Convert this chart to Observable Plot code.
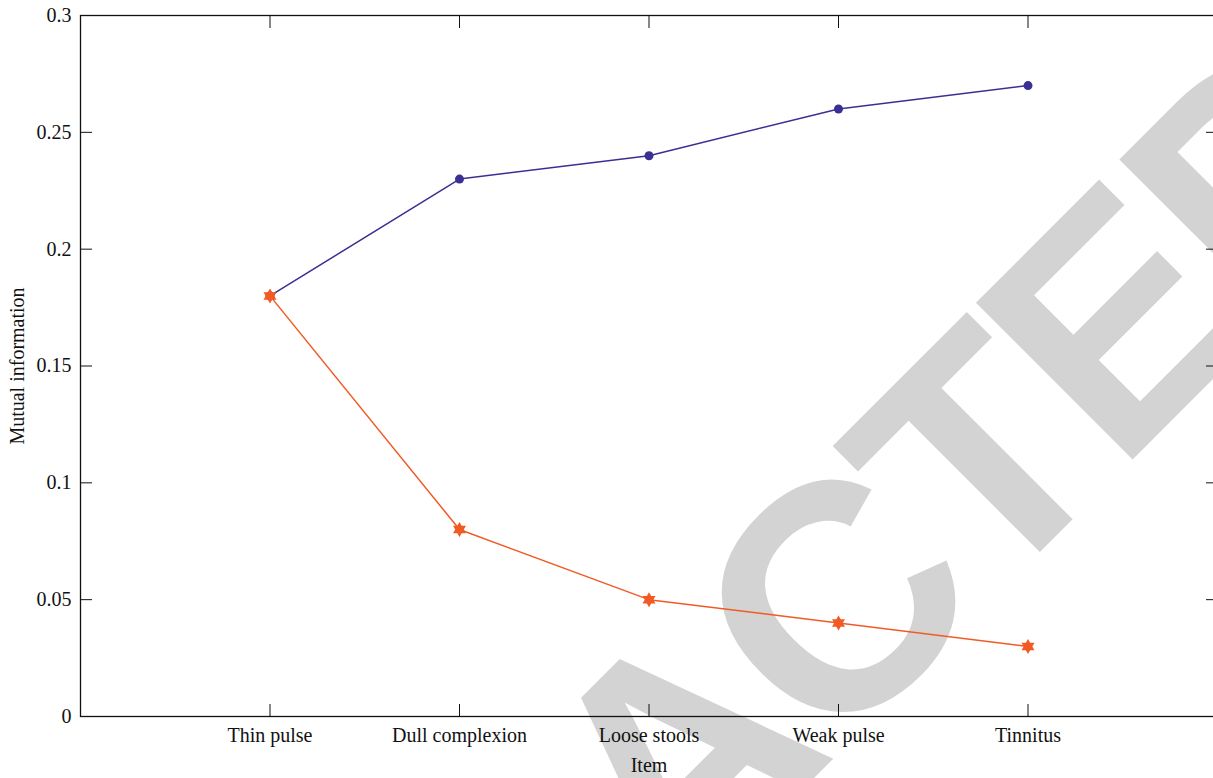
<!DOCTYPE html>
<html>
<head>
<meta charset="utf-8">
<script src="https://cdn.jsdelivr.net/npm/d3@7"></script>
<script src="https://cdn.jsdelivr.net/npm/@observablehq/plot@0.6"></script>
<style>
  html, body { margin: 0; padding: 0; background: white; overflow: hidden; }
  #chart { position: absolute; left: 0; top: 0; }
</style>
</head>
<body>
<div id="chart"></div>
<script>
const items = ["Thin pulse", "Dull complexion", "Loose stools", "Weak pulse", "Tinnitus"];
const seriesBlue = [0.18, 0.23, 0.24, 0.26, 0.27];
const seriesOrange = [0.18, 0.08, 0.05, 0.04, 0.03];
const yTicks = [0, 0.05, 0.1, 0.15, 0.2, 0.25, 0.3];

const blueData = items.map((item, i) => ({item, value: seriesBlue[i]}));
const orangeData = items.map((item, i) => ({item, value: seriesOrange[i]}));

const hexagram = {
  draw(context, size) {
    const R = Math.sqrt(size / Math.PI);
    const r = R / Math.sqrt(3);
    for (let i = 0; i < 12; i++) {
      const a = i * Math.PI / 6 - Math.PI / 2;
      const rad = i % 2 === 0 ? R : r;
      const x = rad * Math.cos(a), y = rad * Math.sin(a);
      if (i === 0) context.moveTo(x, y); else context.lineTo(x, y);
    }
    context.closePath();
  }
};

const fmt = d => String(+d.toFixed(2));
const font = "'Liberation Serif', 'DejaVu Serif', serif";

const chart = Plot.plot({
  width: 1213,
  height: 778,
  marginLeft: 80,
  marginRight: -4,
  marginTop: 15,
  marginBottom: 62,
  style: {fontFamily: font, fontSize: "20px", color: "#111", background: "transparent", overflow: "hidden"},
  x: {type: "point", domain: items, padding: 1, round: false},
  y: {domain: [0, 0.3]},
  marks: [
    Plot.frame({stroke: "#111", strokeWidth: 1.3}),
    Plot.axisY({anchor: "left", ticks: yTicks, tickSize: -12, tickPadding: 21, tickFormat: fmt,
      label: "Mutual information", labelAnchor: "center", labelOffset: 71, labelArrow: "none", stroke: "#111"}),
    Plot.axisY({anchor: "right", ticks: yTicks, tickSize: -12, tickFormat: () => "", label: null, stroke: "#111"}),
    Plot.axisX({anchor: "bottom", tickSize: -12, tickPadding: 23, label: "Item", labelAnchor: "center", labelOffset: 55, labelArrow: "none", stroke: "#111"}),
    Plot.axisX({anchor: "top", tickSize: -12, tickFormat: () => "", label: null, stroke: "#111"}),
    Plot.line(blueData, {x: "item", y: "value", stroke: "#3a2f93", strokeWidth: 1.5}),
    Plot.dot(blueData, {x: "item", y: "value", fill: "#3a2f93", r: 4.5, stroke: "none"}),
    Plot.line(orangeData, {x: "item", y: "value", stroke: "#f15a24", strokeWidth: 1.5}),
    Plot.dot(orangeData, {x: "item", y: "value", fill: "#f15a24", symbol: hexagram, r: 7.5, stroke: "none"})
  ]
});

document.getElementById("chart").appendChild(chart);

// Watermark behind the marks
d3.select(chart).insert("text", ":first-child")
  .attr("transform", "translate(89,1503) rotate(-45)")
  .attr("text-anchor", "start")
  .attr("font-family", "'Liberation Sans', Arial, sans-serif")
  .attr("font-weight", "bold")
  .attr("font-size", 322)
  .attr("letter-spacing", "-12px")
  .attr("fill", "#d3d3d3")
  .attr("stroke", "none")
  .text("RETRACTED");
</script>
</body>
</html>
